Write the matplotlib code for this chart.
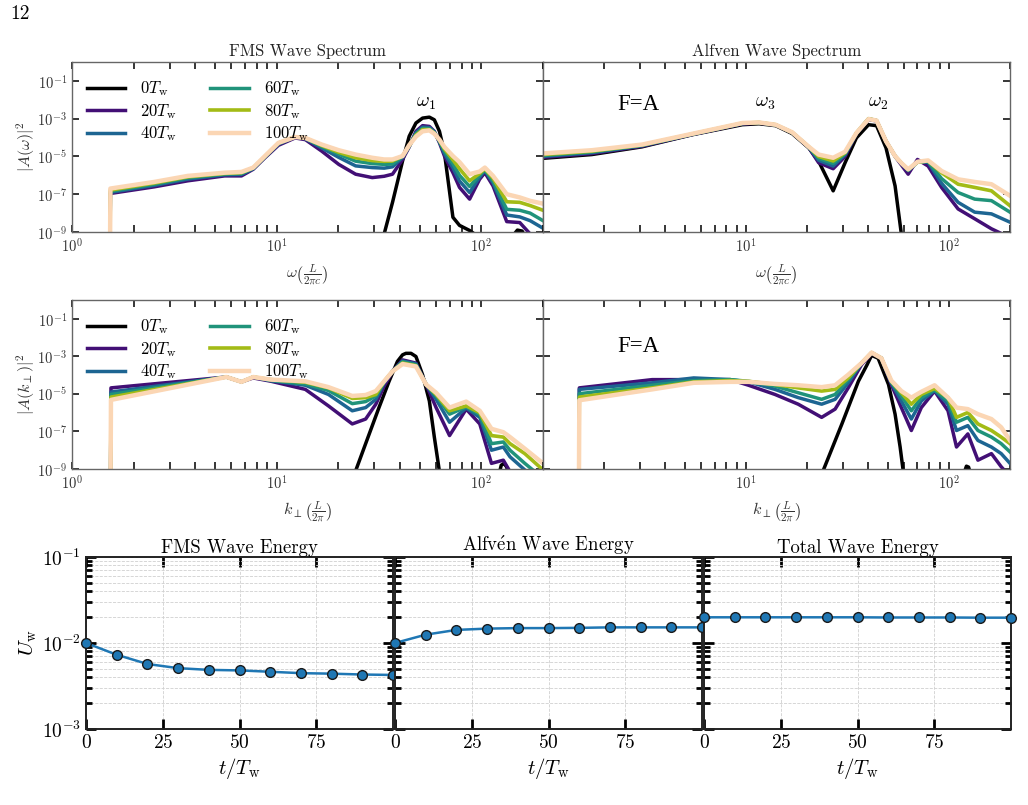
import numpy as np
import matplotlib
matplotlib.use("Agg")
import matplotlib.pyplot as plt
from matplotlib.ticker import LogLocator, NullLocator, FixedLocator

plt.rcParams['font.family'] = ['cmr10', 'DejaVu Serif']
plt.rcParams['mathtext.fontset'] = 'cm'
plt.rcParams['axes.formatter.use_mathtext'] = True

# ---------------- data (log10 of |A|^2) ----------------
SERIES_LABELS = [r'$0T_{\rm w}$', r'$20T_{\rm w}$', r'$40T_{\rm w}$',
                 r'$60T_{\rm w}$', r'$80T_{\rm w}$', r'$100T_{\rm w}$']

# FMS spectrum vs omega
FMS_W_X = [1.53, 1.54, 2.52, 3.68, 5.57, 6.73, 7.68, 8.76, 10.2, 12.3, 13.8, 16.6, 20.1, 24.3, 29.3,
           33.5, 36.8, 41.2, 44.4, 47.9, 51.6, 55.7, 58.9, 62.4, 66.0, 72.6, 78.2, 87.6, 98, 104,
           114, 133, 154, 173, 200]
FMS_W_20 = [-12, -6.96, -6.61, -6.29, -6.03, -6.03, -5.68, -5.07, -4.41, -4.02, -4.11, -4.72, -5.42, -5.94, -6.12,
            -6.05, -5.94, -5.16, -4.50, -3.67, -3.37, -3.41, -3.67, -4.28, -4.98, -5.86, -6.64, -7.26, -6.21, -5.86,
            -6.56, -8.45, -8.50, -9.1, -9.5]
FMS_W_40 = [-12, -6.90, -6.53, -6.20, -5.97, -5.95, -5.65, -5.04, -4.35, -3.98, -4.06, -4.55, -5.05, -5.50, -5.59,
            -5.62, -5.55, -5.05, -4.47, -3.75, -3.45, -3.47, -3.70, -4.23, -4.85, -5.60, -6.30, -6.91, -6.10, -5.75,
            -6.40, -8.10, -8.20, -8.40, -8.80]
FMS_W_60 = [-12, -6.84, -6.47, -6.13, -5.93, -5.90, -5.62, -5.02, -4.31, -3.96, -4.03, -4.47, -4.88, -5.25, -5.38,
            -5.42, -5.40, -5.00, -4.45, -3.82, -3.52, -3.53, -3.74, -4.18, -4.72, -5.38, -6.00, -6.59, -6.00, -5.70,
            -6.30, -7.80, -7.85, -8.00, -8.40]
FMS_W_80 = [-12, -6.78, -6.41, -6.08, -5.90, -5.86, -5.60, -5.00, -4.29, -3.96, -4.02, -4.42, -4.78, -5.07, -5.22,
            -5.26, -5.24, -4.98, -4.42, -3.88, -3.58, -3.58, -3.77, -4.15, -4.60, -5.18, -5.65, -6.29, -5.90, -5.65,
            -6.15, -7.40, -7.43, -7.60, -7.85]
FMS_W_100 = [-12, -6.70, -6.35, -6.03, -5.86, -5.82, -5.59, -4.98, -4.28, -3.97, -4.02, -4.37, -4.67, -4.90, -5.07,
             -5.16, -5.16, -4.98, -4.40, -3.95, -3.67, -3.62, -3.80, -4.11, -4.50, -4.98, -5.30, -5.94, -5.80, -5.59,
             -6.03, -7.00, -7.17, -7.35, -7.50]
FMS_W_0_X = [33.5, 36.8, 41.2, 44.4, 47.9, 51.6, 55.7, 58.9, 62.4, 66.0, 72.6, 78.2, 87.6, 98, 140, 150, 158, 170]
FMS_W_0 = [-9.1, -7.43, -5.24, -3.93, -3.23, -2.97, -2.92, -3.06, -3.67, -4.81, -8.22, -8.65, -8.92, -9.3,
           -9.3, -8.9, -8.95, -9.5]

# Alfven spectrum vs omega
ALF_W_X = [1.0, 1.74, 3.08, 5.44, 9.6, 11.6, 14.0, 16.9, 20.4, 22.8, 26.9, 30.8, 35, 40.2, 44, 49, 54.3,
           58.3, 63, 70, 79, 92, 111, 134, 162, 200]
ALF_W_0 = [-5.10, -4.90, -4.49, -3.85, -3.32, -3.27, -3.37, -3.79, -4.55, -5.25, -6.82, -5.33, -4.02, -3.32,
           -3.37, -4.55, -6.56, -9.1, -12, -12, -12, -12, -12, -12, -12, -12]
ALF_W_20 = [-5.05, -4.85, -4.46, -3.84, -3.28, -3.23, -3.34, -3.75, -4.53, -5.33, -5.65, -5.00, -3.80, -3.05,
            -3.12, -4.20, -5.00, -5.45, -5.94, -5.16, -5.51, -6.64, -7.78, -8.30, -8.83, -9.3]
ALF_W_40 = [-5.00, -4.80, -4.43, -3.83, -3.26, -3.22, -3.33, -3.74, -4.51, -5.20, -5.51, -4.90, -3.78, -3.02,
            -3.10, -4.20, -4.98, -5.38, -5.75, -5.30, -5.30, -6.42, -7.43, -7.95, -8.04, -8.48]
ALF_W_60 = [-4.95, -4.76, -4.41, -3.82, -3.25, -3.21, -3.33, -3.73, -4.50, -5.10, -5.37, -4.85, -3.77, -3.00,
            -3.10, -4.20, -4.98, -5.36, -5.72, -5.30, -5.26, -6.17, -6.91, -7.26, -7.34, -7.95]
ALF_W_80 = [-4.90, -4.72, -4.39, -3.81, -3.24, -3.20, -3.32, -3.73, -4.49, -5.00, -5.24, -4.80, -3.76, -3.00,
            -3.10, -4.20, -4.98, -5.35, -5.70, -5.30, -5.24, -5.86, -6.47, -6.64, -6.82, -7.61]
ALF_W_100 = [-4.84, -4.67, -4.37, -3.80, -3.23, -3.20, -3.32, -3.72, -4.49, -4.90, -5.07, -4.75, -3.76, -3.02,
             -3.10, -4.20, -4.98, -5.35, -5.68, -5.28, -5.21, -5.77, -6.21, -6.35, -6.47, -7.08]

# FMS spectrum vs k_perp
FMS_K_X = [1.54, 1.55, 5.68, 6.73, 7.68, 9.4, 13.8, 17.9, 23.4, 27.2, 30.5, 33.5, 36.8, 41.2, 47.9, 53.7,
           60.1, 69.9, 84.3, 98.2, 112, 128, 138, 163, 200]
FMS_K_20 = [-12, -4.68, -4.10, -4.36, -4.15, -4.33, -4.76, -5.64, -6.60, -6.34, -5.55, -4.59, -3.80, -3.19,
            -3.36, -4.50, -5.73, -7.22, -5.81, -6.60, -8.70, -8.53, -9.14, -9.8, -10.5]
FMS_K_40 = [-12, -4.90, -4.10, -4.36, -4.10, -4.30, -4.54, -5.03, -5.90, -5.73, -5.29, -4.40, -3.80, -3.25,
            -3.40, -4.50, -5.29, -6.51, -5.75, -6.25, -8.00, -7.83, -8.35, -9.05, -9.8]
FMS_K_60 = [-12, -5.03, -4.10, -4.36, -4.10, -4.28, -4.47, -4.82, -5.52, -5.41, -5.11, -4.36, -3.80, -3.29,
            -3.45, -4.50, -5.11, -6.08, -5.69, -6.10, -7.65, -7.56, -8.00, -8.70, -9.5]
FMS_K_80 = [-12, -5.17, -4.10, -4.36, -4.10, -4.24, -4.38, -4.68, -5.24, -5.20, -5.03, -4.33, -3.80, -3.36,
            -3.50, -4.50, -5.03, -5.90, -5.64, -6.00, -7.22, -7.30, -7.65, -8.18, -9.05]
FMS_K_100 = [-12, -5.32, -4.10, -4.36, -4.10, -4.24, -4.33, -4.64, -5.11, -5.06, -4.85, -4.33, -3.80, -3.41,
             -3.54, -4.50, -4.94, -5.73, -5.41, -5.90, -6.86, -7.04, -7.30, -7.92, -8.70]
FMS_K_0_X = [24.3, 27.2, 31.6, 35.4, 38.9, 41.2, 42.8, 45.3, 47.9, 51.6, 55.7, 58.9, 62.4, 120, 125, 129, 133, 138]
FMS_K_0 = [-9.1, -7.65, -5.73, -4.33, -3.27, -2.92, -2.84, -2.84, -3.01, -3.98, -5.38, -7.30, -9.14,
           -9.6, -8.8, -8.7, -8.9, -9.6]

# Alfven spectrum vs k_perp
ALF_K_X = [1.5, 1.51, 3.45, 5.53, 8.37, 10.3, 13.9, 18.1, 23.6, 27.5, 31.9, 37.1, 41.6, 46.5, 52, 58.3,
           65.3, 73.1, 85, 99, 109, 124, 139, 162, 181, 200]
ALF_K_20 = [-12, -4.68, -4.24, -4.24, -4.24, -4.54, -5.03, -5.55, -6.25, -5.81, -4.68, -3.45, -2.85, -3.10,
            -4.50, -5.73, -6.95, -5.73, -4.85, -5.90, -7.83, -7.13, -8.53, -8.18, -8.88, -9.4]
ALF_K_40 = [-12, -4.76, -4.41, -4.15, -4.24, -4.36, -4.76, -5.20, -5.55, -5.29, -4.41, -3.36, -2.82, -3.10,
            -4.41, -5.38, -6.34, -5.38, -4.82, -5.55, -6.95, -6.69, -7.48, -7.83, -8.18, -8.70]
ALF_K_60 = [-12, -4.99, -4.54, -4.29, -4.24, -4.33, -4.59, -4.94, -5.29, -5.03, -4.24, -3.36, -2.80, -3.10,
            -4.36, -5.11, -5.90, -5.20, -4.78, -5.38, -6.51, -6.25, -6.95, -7.30, -7.65, -8.09]
ALF_K_80 = [-12, -5.17, -4.68, -4.36, -4.29, -4.33, -4.50, -4.68, -4.85, -4.76, -4.15, -3.36, -2.80, -3.10,
            -4.33, -4.94, -5.55, -5.03, -4.71, -5.20, -6.25, -5.99, -6.60, -6.95, -7.30, -7.65]
ALF_K_100 = [-12, -5.34, -4.76, -4.41, -4.36, -4.36, -4.47, -4.54, -4.64, -4.54, -3.98, -3.36, -2.80, -3.10,
             -4.29, -4.85, -5.20, -4.89, -4.54, -5.20, -5.73, -5.81, -6.08, -6.34, -6.78, -7.48]
ALF_K_0_X = [23.9, 29.7, 35.8, 39.5, 41.6, 44.8, 50.4, 54.3, 57.5, 59.6, 118, 122, 125, 129]
ALF_K_0 = [-9.14, -6.60, -4.33, -3.45, -2.95, -3.10, -4.50, -6.08, -7.83, -9.14, -9.3, -8.85, -8.9, -9.4]

# Wave energies
T_ENERGY = [0, 10, 20, 30, 40, 50, 60, 70, 80, 90, 100]
U_FMS = [1.0e-2, 7.3e-3, 5.7e-3, 5.1e-3, 4.87e-3, 4.8e-3, 4.63e-3, 4.46e-3, 4.4e-3, 4.3e-3, 4.25e-3]
U_ALF = [1.0e-2, 1.25e-2, 1.42e-2, 1.47e-2, 1.49e-2, 1.49e-2, 1.5e-2, 1.52e-2, 1.52e-2, 1.52e-2, 1.52e-2]
U_TOT = [1.99e-2, 1.99e-2, 1.99e-2, 1.99e-2, 1.99e-2, 1.99e-2, 1.98e-2, 1.98e-2, 1.98e-2, 1.97e-2, 1.97e-2]

COLORS = ['black', '#420f75', '#1d6592', '#20937a', '#a3bb16', '#fbd6b4']
WIDTHS = [2.5, 2.5, 2.5, 2.5, 2.6, 3.2]

# ---------------- figure ----------------
W, H = 1028, 805
fig = plt.figure(figsize=(W / 100, H / 100), dpi=100)


def box(l, t, r, b):
    return [l / W, 1 - b / H, (r - l) / W, (b - t) / H]


ax_a = fig.add_axes(box(72, 62, 543, 232))
ax_b = fig.add_axes(box(543, 62, 1010, 232))
ax_c = fig.add_axes(box(72, 300, 543, 469))
ax_d = fig.add_axes(box(543, 300, 1010, 469))
ax_e = fig.add_axes(box(86, 557, 393, 729))
ax_f = fig.add_axes(box(395, 557, 702, 729))
ax_g = fig.add_axes(box(704, 557, 1011, 729))


def draw_spectrum(ax, x, series, bx, by, legend):
    if bx is None:
        ax.plot(x, 10.0 ** np.array(by), color=COLORS[0], lw=WIDTHS[0], label=SERIES_LABELS[0])
    else:
        ax.plot(bx, 10.0 ** np.array(by), color=COLORS[0], lw=WIDTHS[0], label=SERIES_LABELS[0])
    for i, s in enumerate(series):
        ax.plot(x, 10.0 ** np.array(s), color=COLORS[i + 1], lw=WIDTHS[i + 1],
                label=SERIES_LABELS[i + 1])
    ax.set_xscale('log')
    ax.set_yscale('log')
    ax.set_xlim(1, 200)
    ax.set_ylim(1e-9, 1)
    ax.xaxis.set_major_locator(FixedLocator([1, 10, 100]))
    ax.xaxis.set_minor_locator(LogLocator(base=10, subs=range(2, 10), numticks=20))
    ax.yaxis.set_major_locator(FixedLocator([1e-9, 1e-7, 1e-5, 1e-3, 1e-1]))
    ax.yaxis.set_minor_locator(NullLocator())
    ax.tick_params(which='both', direction='in', top=True, right=True, length=5, width=1.1,
                   labelsize=10.5, colors='black', labelcolor='#333333')
    for sp in ax.spines.values():
        sp.set_color('#666666')
        sp.set_linewidth(1.0)
    if legend:
        ax.legend(loc='upper left', bbox_to_anchor=(0.0, 0.985), ncol=2, frameon=False, fontsize=12,
                  handlelength=2.3, labelspacing=0.22, columnspacing=2.0, handletextpad=0.9)


draw_spectrum(ax_a, FMS_W_X, [FMS_W_20, FMS_W_40, FMS_W_60, FMS_W_80, FMS_W_100], FMS_W_0_X, FMS_W_0, True)
draw_spectrum(ax_b, ALF_W_X, [ALF_W_20, ALF_W_40, ALF_W_60, ALF_W_80, ALF_W_100], None, ALF_W_0, False)
draw_spectrum(ax_c, FMS_K_X, [FMS_K_20, FMS_K_40, FMS_K_60, FMS_K_80, FMS_K_100], FMS_K_0_X, FMS_K_0, True)
draw_spectrum(ax_d, ALF_K_X, [ALF_K_20, ALF_K_40, ALF_K_60, ALF_K_80, ALF_K_100], ALF_K_0_X, ALF_K_0, False)

ylabs = [r'$10^{-9}$', r'$10^{-7}$', r'$10^{-5}$', r'$10^{-3}$', r'$10^{-1}$']
for ax in (ax_a, ax_c):
    ax.set_xticks([1, 10, 100], [r'$10^{0}$', r'$10^{1}$', r'$10^{2}$'])
    ax.set_yticks([1e-9, 1e-7, 1e-5, 1e-3, 1e-1], ylabs)
for ax in (ax_b, ax_d):
    ax.set_xticks([1, 10, 100], ['', r'$10^{1}$', r'$10^{2}$'])
    ax.tick_params(labelleft=False)

ax_a.set_title('FMS Wave Spectrum', fontsize=12, pad=4, color='#222222')
ax_b.set_title('Alfven Wave Spectrum', fontsize=12, pad=4, color='#222222')
wlab = r'$\omega\left(\frac{L}{2\pi c}\right)$'
klab = r'$k_{\perp}\left(\frac{L}{2\pi}\right)$'
for ax in (ax_a, ax_b):
    ax.set_xlabel(wlab, fontsize=11.5, labelpad=5.5, color='#333333')
for ax in (ax_c, ax_d):
    ax.set_xlabel(klab, fontsize=11.5, labelpad=5.5, color='#333333')
ax_a.set_ylabel(r'$|A(\omega)|^2$', fontsize=11.5, color='#333333', labelpad=0)
ax_c.set_ylabel(r'$|A(k_{\perp})|^2$', fontsize=11.5, color='#333333', labelpad=0)

ax_a.text(53.6, 10 ** -2.15, r'$\omega_1$', fontsize=14, ha='center', va='center')
ax_b.text(12.4, 10 ** -2.15, r'$\omega_3$', fontsize=14, ha='center', va='center')
ax_b.text(44.7, 10 ** -2.15, r'$\omega_2$', fontsize=14, ha='center', va='center')
ax_b.text(2.95, 10 ** -2.25, 'F=A', fontsize=16.5, ha='center', va='center', family='Liberation Serif')
ax_d.text(2.95, 10 ** -2.45, 'F=A', fontsize=16.5, ha='center', va='center', family='Liberation Serif')

# energy panels
for ax, u, title in ((ax_e, U_FMS, 'FMS Wave Energy'),
                     (ax_f, U_ALF, r'Alfv$\mathrm{\acute{e}}$n Wave Energy'),
                     (ax_g, U_TOT, 'Total Wave Energy')):
    ax.plot(T_ENERGY, u, color='#1f77b4', lw=1.8, marker='o', ms=7, mfc='#1f77b4',
            mec='#1a1a1a', mew=1.0, clip_on=False, zorder=3)
    ax.set_yscale('log')
    ax.set_ylim(1e-3, 1e-1)
    ax.set_xlim(0, 100)
    ax.set_xticks([0, 25, 50, 75])
    ax.yaxis.set_major_locator(FixedLocator([1e-3, 1e-2, 1e-1]))
    ax.yaxis.set_minor_locator(LogLocator(base=10, subs=range(2, 10), numticks=10))
    ax.grid(True, which='both', ls='--', lw=0.6, color='#d0d0d0')
    ax.set_axisbelow(True)
    ax.tick_params(which='both', direction='in', top=True, right=True, width=2.0, labelsize=14)
    ax.tick_params(which='major', length=7)
    ax.tick_params(which='minor', length=4)
    for sp in ax.spines.values():
        sp.set_color('#222222')
        sp.set_linewidth(1.4)
    ax.set_title(title, fontsize=13.5, pad=3)
    ax.set_xlabel(r'$t/T_{\rm w}$', fontsize=15, labelpad=3)

ax_e.set_yticks([1e-3, 1e-2, 1e-1], [r'$10^{-3}$', r'$10^{-2}$', r'$10^{-1}$'])
ax_e.set_ylabel(r'$U_{\rm w}$', fontsize=15, labelpad=2)
ax_f.tick_params(which='both', labelleft=False)
ax_g.tick_params(which='both', labelleft=False)

fig.text(10 / W, 1 - 14 / H, '12', fontsize=14, ha='left', va='center')

fig.savefig('out.png', dpi=100)
